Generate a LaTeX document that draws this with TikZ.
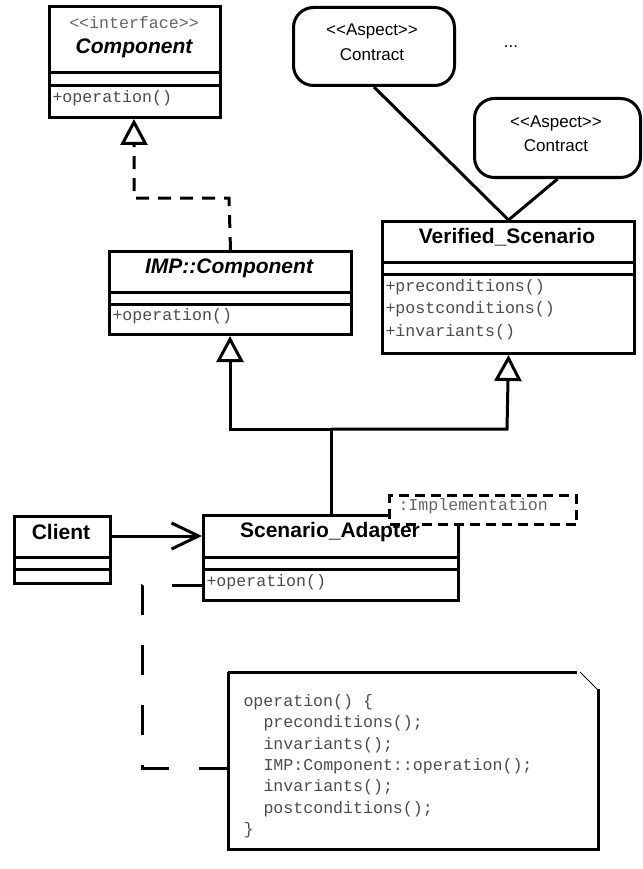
\documentclass[tikz,border=0pt]{standalone}
\usepackage{fontspec}
\setmainfont{Liberation Sans}
\newfontfamily\monof{Liberation Mono}
\usetikzlibrary{arrows.meta,calc}
\begin{document}
\begin{tikzpicture}[x=1pt,y=-1pt,line width=3pt,
  box/.style={draw,line width=3pt,rectangle,anchor=north west,inner sep=0pt,fill=white},
  rbox/.style={box,rounded corners=20pt},
  bname/.style={font=\fontsize{21}{24}\selectfont\bfseries,inner sep=0pt},
  biname/.style={font=\fontsize{21}{24}\selectfont\bfseries\itshape,inner sep=0pt},
  meth/.style={font=\fontsize{16.6}{20}\selectfont\monof,text=black!70,anchor=west,inner sep=0pt},
  stereo/.style={font=\fontsize{16.6}{20}\selectfont\monof,text=black!60,inner sep=0pt},
  asp/.style={font=\fontsize{17}{20}\selectfont,inner sep=0pt},
  gen/.style={-{Triangle[open,length=26pt,width=27pt]}},
  real/.style={gen,dash pattern=on 13pt off 9pt},
  assoc/.style={-{Straight Barb[length=27pt,width=26pt]}},
  anchorline/.style={dash pattern=on 30pt off 30pt},
  implbox/.style={draw,fill=white,line width=3pt,dash pattern=on 10pt off 6pt,anchor=north west,inner sep=0pt}
]
\useasboundingbox (0,0) rectangle (642,869);

% Component
\node[box,minimum width=171pt,minimum height=111pt] (comp) at (48,5) {};
\draw (comp.west |- 0,73) -- (comp.east |- 0,73);
\draw (comp.west |- 0,86) -- (comp.east |- 0,86);
\node[stereo] (compst) at (134,23) {<<interface>>};
\node[biname] (compn) at (134,48) {Component};
\node[meth] (compop) at (51,98) {+operation()};

% IMP::Component
\node[box,minimum width=242pt,minimum height=83pt] (imp) at (108,250) {};
\draw (imp.west |- 0,292) -- (imp.east |- 0,292);
\draw (imp.west |- 0,304) -- (imp.east |- 0,304);
\node[biname] (impn) at (229,268) {IMP::Component};
\node[meth] (impop) at (111,316) {+operation()};

% Verified_Scenario
\node[box,minimum width=252pt,minimum height=132pt] (vs) at (381,220) {};
\draw (vs.west |- 0,262) -- (vs.east |- 0,262);
\draw (vs.west |- 0,274) -- (vs.east |- 0,274);
\node[bname] (vsn) at (507,237) {Verified\_Scenario};
\node[meth] (vs1) at (384,287) {+preconditions()};
\node[meth] (vs2) at (384,309) {+postconditions()};
\node[meth] (vs3) at (384,332) {+invariants()};

% Aspects
\node[rbox,minimum width=161pt,minimum height=78pt] (asp1) at (292,6) {};
\node[asp] (asp1a) at (372,31) {{<}{<}Aspect{>}{>}};
\node[asp] (asp1b) at (372,55) {Contract};
\node[rbox,minimum width=166pt,minimum height=79pt] (asp2) at (473,97) {};
\node[asp] (asp2a) at (556,123) {{<}{<}Aspect{>}{>}};
\node[asp] (asp2b) at (556,146) {Contract};
\node[asp] (dots) at (511,47) {...};
\draw (asp1.south) -- (vs.north);
\draw (asp2.south) -- (vs.north);

% Realization IMP -> Component
\coordinate (r1) at (229,198);
\coordinate (r2) at (134,198);
\draw[real] (imp.north) -- (r1) -- (r2) -- (comp.south -| r2);

% Scenario_Adapter
\coordinate (j) at (331,429);
\draw[gen] (j) -- (230,429) -- (imp.south -| 230,0);
\draw[gen] (j) -- (507,429) -- (vs.south);
\node[box,minimum width=255pt,minimum height=85pt] (sa) at (202,514) {};
\draw (j) -- (sa.north -| j);
\draw (sa.west |- 0,557) -- (sa.east |- 0,557);
\draw (sa.west |- 0,569) -- (sa.east |- 0,569);
\node[bname] (san) at (330,532) {Scenario\_Adapter};
\node[meth] (saop) at (205,582) {+operation()};
\node[implbox,minimum width=187pt,minimum height=29pt] (impl) at (388,494) {};
\node[meth,text=black!60] (impltxt) at (397,506) {:Implementation};

% Client
\node[box,minimum width=96pt,minimum height=67pt] (client) at (13,515) {};
\draw (client.west |- 0,557) -- (client.east |- 0,557);
\draw (client.west |- 0,569) -- (client.east |- 0,569);
\node[bname] (clientn) at (61,532) {Client};
\draw[assoc] (client.east |- 0,536) -- (sa.west |- 0,536);

% Note
\node[inner sep=0pt,minimum width=367pt,minimum height=174pt,anchor=north west] (note) at (228,672) {};
\draw (note.north west) -- ++(349,0);
\draw[line width=1pt] ($(note.north east)+(-18,0)$) -- ($(note.north east)+(0,18)$);
\draw ($(note.north east)+(0,17)$) -- (note.south east) -- (note.south west) -- (note.north west);
\node[meth] (n1) at (242,702) {operation() \{};
\node[meth] (n2) at (262,723) {preconditions();};
\node[meth] (n3) at (262,745) {invariants();};
\node[meth] (n4) at (262,766) {IMP:Component::operation();};
\node[meth] (n5) at (262,787) {invariants();};
\node[meth] (n6) at (262,809) {postconditions();};
\node[meth] (n7) at (242,830) {\}};

% note anchor
\coordinate (nc) at (228,768);
\draw[anchorline] (sa.west |- 0,585) -- (142,585) -- (142,768) -- (nc);
\end{tikzpicture}
\end{document}
